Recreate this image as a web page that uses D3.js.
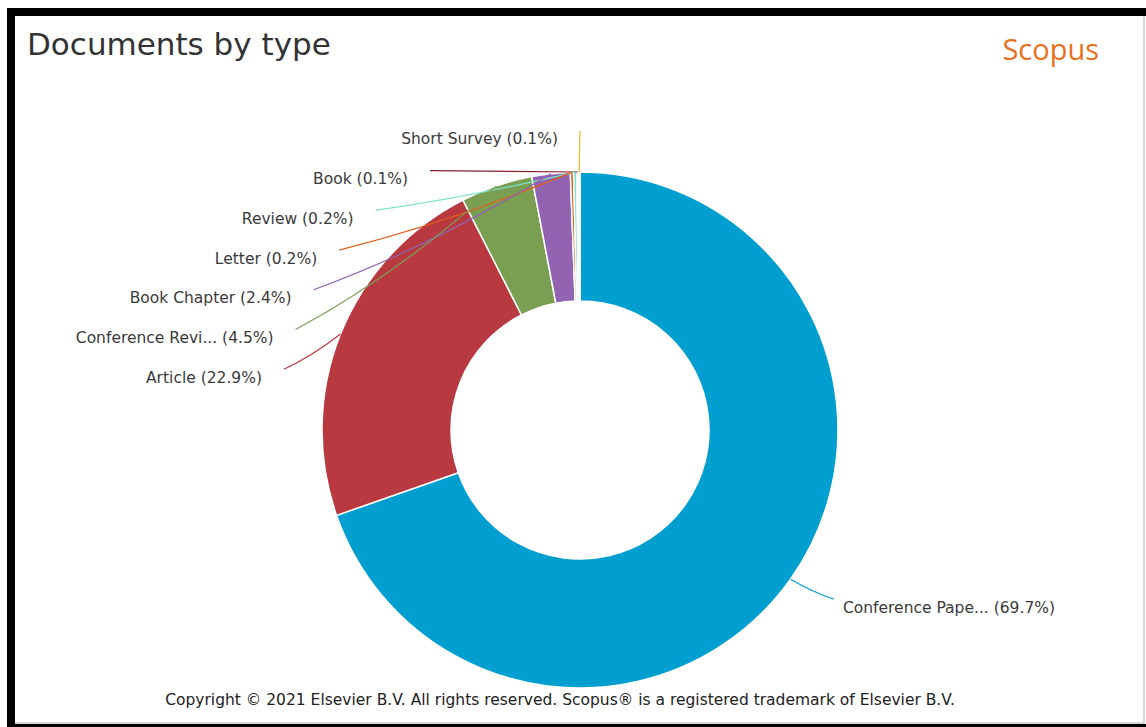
<!DOCTYPE html>
<html>
<head>
<meta charset="utf-8">
<script src="https://cdn.jsdelivr.net/npm/d3@7"></script>
<style>
  html, body { margin: 0; padding: 0; background: #fff; }
  svg { display: block; }
</style>
</head>
<body>
<svg id="chart" width="1146" height="727"></svg>
<script>
// Document types and their share of all documents (%)
const categories = ["Conference Paper", "Article", "Conference Review", "Book Chapter", "Letter", "Review", "Book", "Short Survey"];
const labelNames = ["Conference Pape...", "Article", "Conference Revi...", "Book Chapter", "Letter", "Review", "Book", "Short Survey"];
const shares = [69.7, 22.9, 4.5, 2.4, 0.2, 0.2, 0.1, 0.1];
const colors = ["#009fcf", "#b83a40", "#7a9f53", "#9163b0", "#e0601c", "#7ee2c8", "#8c1d2f", "#e2bd2c"];

const W = 1146, H = 727;
const svg = d3.select("#chart");
const FONT = "'DejaVu Sans', sans-serif";

// ---- frame ----
svg.append("rect").attr("x", 0).attr("y", 0).attr("width", W).attr("height", H).attr("fill", "#fff");
svg.append("rect").attr("x", 7).attr("y", 8).attr("width", W - 7).attr("height", 8).attr("fill", "#000");
svg.append("rect").attr("x", 7).attr("y", 8).attr("width", 8).attr("height", H - 8).attr("fill", "#000");
svg.append("rect").attr("x", 7).attr("y", 724).attr("width", W - 7).attr("height", 3).attr("fill", "#000");
svg.append("line").attr("x1", 1144).attr("x2", 1144).attr("y1", 16).attr("y2", 723.5)
  .attr("stroke", "#c8c8c8").attr("stroke-width", 1.5);
svg.append("line").attr("x1", 15).attr("x2", 1144.5).attr("y1", 723).attr("y2", 723)
  .attr("stroke", "#c8c8c8").attr("stroke-width", 1.5);

// ---- title and brand ----
svg.append("text").attr("x", 27).attr("y", 55)
  .attr("font-family", FONT).attr("font-size", 31).attr("fill", "#333")
  .text("Documents by type");
svg.append("text").attr("x", 1099).attr("y", 60).attr("text-anchor", "end")
  .attr("font-family", "'Open Sans', sans-serif").attr("font-size", 29).attr("fill", "#e8701e")
  .text("Scopus");

// ---- donut ----
const cx = 580, cy = 430, outerR = 258, innerR = outerR * 0.5;
const labelR = outerR + 45;      // radius of the label ring
const rowGap = 39.7;             // vertical spacing of stacked labels

const data = categories.map((c, i) => ({ name: c, label: labelNames[i], value: shares[i], color: colors[i] }));
const pie = d3.pie().value(d => d.value).sort(null);
const arcs = pie(data);
const arc = d3.arc().innerRadius(innerR).outerRadius(outerR);

const g = svg.append("g").attr("transform", `translate(${cx},${cy})`);
g.selectAll("path.slice").data(arcs).join("path")
  .attr("class", "slice")
  .attr("d", arc)
  .attr("fill", d => d.data.color)
  .attr("stroke", "#fff").attr("stroke-width", 1.5).attr("stroke-linejoin", "round");

// ---- labels & connectors ----
const mid = d => (d.startAngle + d.endAngle) / 2;
const polar = (r, a) => [Math.sin(a) * r, -Math.cos(a) * r];
const ringX = (dy, side) => side * Math.sqrt(Math.max(0, labelR * labelR - dy * dy));

const right = arcs.filter(d => mid(d) < Math.PI);
const left = arcs.filter(d => mid(d) >= Math.PI).sort((a, b) => mid(b) - mid(a));

const placed = [];
right.forEach(d => placed.push({ d, side: 1, dy: -Math.cos(mid(d)) * labelR - 10 }));
left.forEach((d, i) => placed.push({ d, side: -1, dy: -labelR + i * rowGap }));

const lab = g.append("g");
placed.forEach(p => {
  const a = mid(p.d);
  const ex = ringX(p.dy, p.side), ey = p.dy + 4;
  const edge = polar(outerR, a);
  const dx = edge[0] - ex, dyc = edge[1] - ey;
  const path = d3.path();
  path.moveTo(ex, ey);
  path.quadraticCurveTo(ex + dx * 0.5, ey + dyc * 0.5 * 0.75, edge[0], edge[1]);
  lab.append("path").attr("d", path.toString())
    .attr("fill", "none").attr("stroke", p.d.data.color).attr("stroke-width", 1.2);
  lab.append("text")
    .attr("x", ex + (p.side > 0 ? 9 : -22))
    .attr("y", ey + 8)
    .attr("dy", "0.35em")
    .attr("text-anchor", p.side > 0 ? "start" : "end")
    .attr("font-family", FONT).attr("font-size", 15.5).attr("fill", "#3a3a3a")
    .text(`${p.d.data.label} (${p.d.data.value.toFixed(1)}%)`);
});

// ---- footer ----
svg.append("text").attr("x", 560).attr("y", 705).attr("text-anchor", "middle")
  .attr("font-family", FONT).attr("font-size", 15.5).attr("fill", "#222")
  .text("Copyright © 2021 Elsevier B.V. All rights reserved. Scopus® is a registered trademark of Elsevier B.V.");
</script>
</body>
</html>
